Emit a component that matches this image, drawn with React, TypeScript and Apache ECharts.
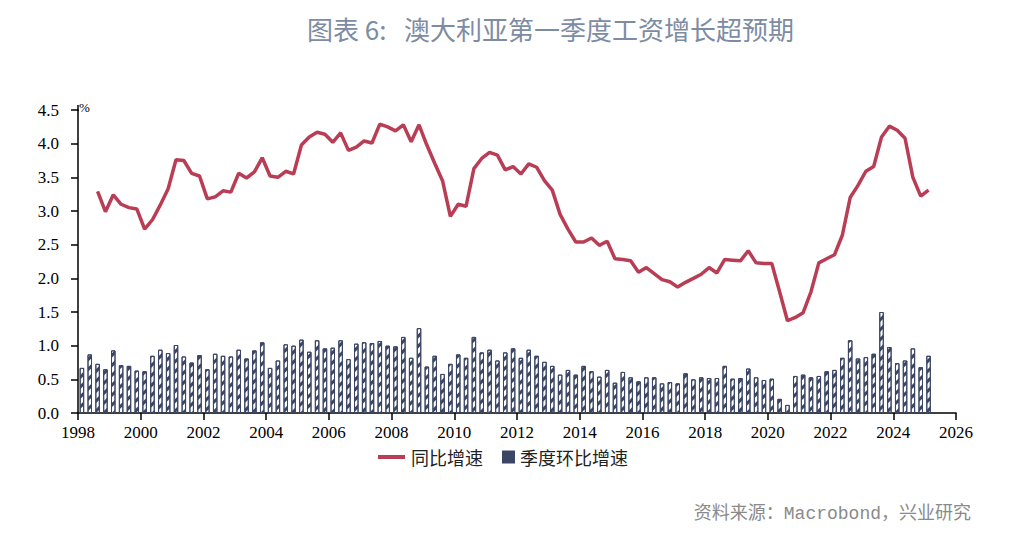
import React, { useEffect, useRef } from "react";
import * as echarts from "echarts";

const lineStart: [number, number] = [1998, 3];
const barStart: [number, number] = [1998, 1];

// 同比增速 (%), quarterly from 1998Q3
const yoyValues: number[] = [
  3.29, 2.99,
  3.24, 3.10, 3.05, 3.03,
  2.73, 2.87, 3.09, 3.33,
  3.76, 3.75, 3.56, 3.52,
  3.18, 3.21, 3.30, 3.28,
  3.56, 3.49, 3.58, 3.79,
  3.52, 3.50, 3.59, 3.55,
  3.98, 4.10, 4.17, 4.14,
  4.02, 4.16, 3.90, 3.95,
  4.04, 4.01, 4.29, 4.25,
  4.19, 4.28, 4.03, 4.28,
  3.98, 3.71, 3.45, 2.92,
  3.10, 3.07, 3.63, 3.78,
  3.87, 3.83, 3.61, 3.66,
  3.55, 3.70, 3.65, 3.45,
  3.31, 2.95, 2.73, 2.54,
  2.54, 2.60, 2.49, 2.55,
  2.29, 2.28, 2.26, 2.09,
  2.16, 2.07, 1.98, 1.95,
  1.87, 1.94, 2.00, 2.06,
  2.16, 2.08, 2.28, 2.27,
  2.26, 2.41, 2.23, 2.22,
  2.22, 1.80, 1.37, 1.42,
  1.49, 1.80, 2.23, 2.29,
  2.35, 2.64, 3.20, 3.38,
  3.59, 3.66, 4.10, 4.26,
  4.20, 4.08, 3.50, 3.22,
  3.31,
];

// 季度环比增速 (%), quarterly from 1998Q1
const qoqValues: number[] = [
  0.67, 0.87, 0.73, 0.65,
  0.93, 0.71, 0.70, 0.63,
  0.62, 0.85, 0.94, 0.89,
  1.01, 0.84, 0.75, 0.86,
  0.65, 0.88, 0.85, 0.84,
  0.94, 0.81, 0.93, 1.05,
  0.67, 0.78, 1.02, 1.00,
  1.09, 0.91, 1.08, 0.96,
  0.97, 1.08, 0.80, 1.03,
  1.05, 1.04, 1.07, 1.00,
  0.99, 1.13, 0.82, 1.26,
  0.69, 0.85, 0.58, 0.73,
  0.87, 0.82, 1.13, 0.90,
  0.94, 0.78, 0.90, 0.96,
  0.82, 0.94, 0.85, 0.76,
  0.70, 0.57, 0.64, 0.57,
  0.70, 0.62, 0.54, 0.64,
  0.45, 0.61, 0.53, 0.47,
  0.53, 0.53, 0.44, 0.46,
  0.44, 0.59, 0.50, 0.53,
  0.52, 0.52, 0.70, 0.51,
  0.52, 0.66, 0.53, 0.49,
  0.51, 0.21, 0.12, 0.55,
  0.57, 0.53, 0.55, 0.62,
  0.64, 0.82, 1.08, 0.81,
  0.83, 0.88, 1.50, 0.98,
  0.74, 0.78, 0.96, 0.68,
  0.85,
];

const titleText = "图表\u00A06:\u00A0\u00A0\u00A0澳大利亚第一季度工资增长超预期";
const sourceText = "资料来源：Macrobond，兴业研究";
const lineName = "同比增速";
const barName = "季度环比增速";

const lineColor = "#b93d54";
const barDark = "#3b4664";

// quarter (year, q) -> mid-quarter position on a year axis
function quarterPos(start: [number, number], i: number): number {
  const idx = (start[1] - 1) + i;
  const year = start[0] + Math.floor(idx / 4);
  const q = (idx % 4) + 1;
  return year + (q - 0.5) / 4;
}

export default function App() {
  const ref = useRef<HTMLDivElement>(null);
  useEffect(() => {
    if (!ref.current) return;
    const chart = echarts.init(ref.current, undefined, { renderer: "svg" });
    const lineData = yoyValues.map((v, i) => [quarterPos(lineStart, i), v]);
    const barData = qoqValues.map((v, i) => [quarterPos(barStart, i), v]);
    const serif = "Liberation Serif, serif";
    const cjk = "Noto Sans CJK SC";
    const labelStyle = { color: "#000", fontFamily: serif, fontSize: 17 };
    chart.setOption({
      animation: false,
      backgroundColor: "#ffffff",
      grid: { left: 78, right: 59, top: 110, bottom: 124 },
      xAxis: {
        type: "value",
        min: 1998,
        max: 2026,
        interval: 2,
        axisLine: { show: true, lineStyle: { color: "#000", width: 1.5 } },
        axisTick: { show: true, length: 7, lineStyle: { color: "#000", width: 1.5 } },
        axisLabel: { ...labelStyle, margin: 11, formatter: (v: number) => String(v) },
        splitLine: { show: false },
      },
      yAxis: {
        type: "value",
        min: 0,
        max: 4.5,
        interval: 0.5,
        axisLine: { show: true, lineStyle: { color: "#000", width: 1.5 } },
        axisTick: { show: true, length: 7, lineStyle: { color: "#000", width: 1.5 } },
        axisLabel: { ...labelStyle, margin: 19, formatter: (v: number) => v.toFixed(1) },
        splitLine: { show: false },
      },
      legend: [
        {
          left: 373,
          top: 443,
          itemWidth: 27,
          itemHeight: 4,
          data: [{ name: lineName, icon: "rect", itemStyle: { color: lineColor } }],
          textStyle: { fontFamily: cjk, fontSize: 18, color: "#222", padding: [0, 0, 0, 1] },
        },
        {
          left: 497,
          top: 443,
          itemWidth: 11,
          itemHeight: 11,
          data: [{ name: barName, icon: "rect", itemStyle: { color: barDark, decal: "none", borderColor: barDark } }],
          textStyle: { fontFamily: cjk, fontSize: 18, color: "#222", padding: [0, 0, 0, 1] },
        },
      ],
      series: [
        {
          name: barName,
          type: "bar",
          data: barData,
          barWidth: 4.5,
          itemStyle: {
            color: "#ffffff",
            borderColor: barDark,
            borderWidth: 1,
            decal: {
              symbol: "rect",
              symbolSize: 1,
              color: barDark,
              dashArrayX: [[1, 0]],
              dashArrayY: [3, 4],
              rotation: -Math.PI / 4,
            },
          },
          z: 1,
        },
        {
          name: lineName,
          type: "line",
          data: lineData,
          symbol: "none",
          lineStyle: { color: lineColor, width: 3.5 },
          itemStyle: { color: lineColor },
          z: 3,
        },
      ],
      graphic: [
        {
          type: "text",
          left: 307,
          top: 15,
          style: {
            text: titleText,
            fontFamily: cjk,
            fontSize: 26,
            fill: "#7d8ca3",
          },
        },
        {
          type: "line",
          shape: { x1: 78, y1: 105, x2: 78, y2: 111 },
          style: { stroke: "#000", lineWidth: 1.5 },
        },
        {
          type: "text",
          left: 79,
          top: 101,
          style: { text: "%", fontFamily: serif, fontSize: 13, fill: "#000" },
        },
        {
          type: "text",
          right: 44,
          top: 505,
          style: {
            text: sourceText,
            fontFamily: "Liberation Mono, Noto Sans CJK SC",
            fontSize: 18,
            fill: "#8a8a8a",
          },
        },
      ],
    });
    return () => chart.dispose();
  }, []);
  return (
    <div
      ref={ref}
      style={{ position: "fixed", left: 0, top: 0, width: 1015, height: 537 }}
    />
  );
}
